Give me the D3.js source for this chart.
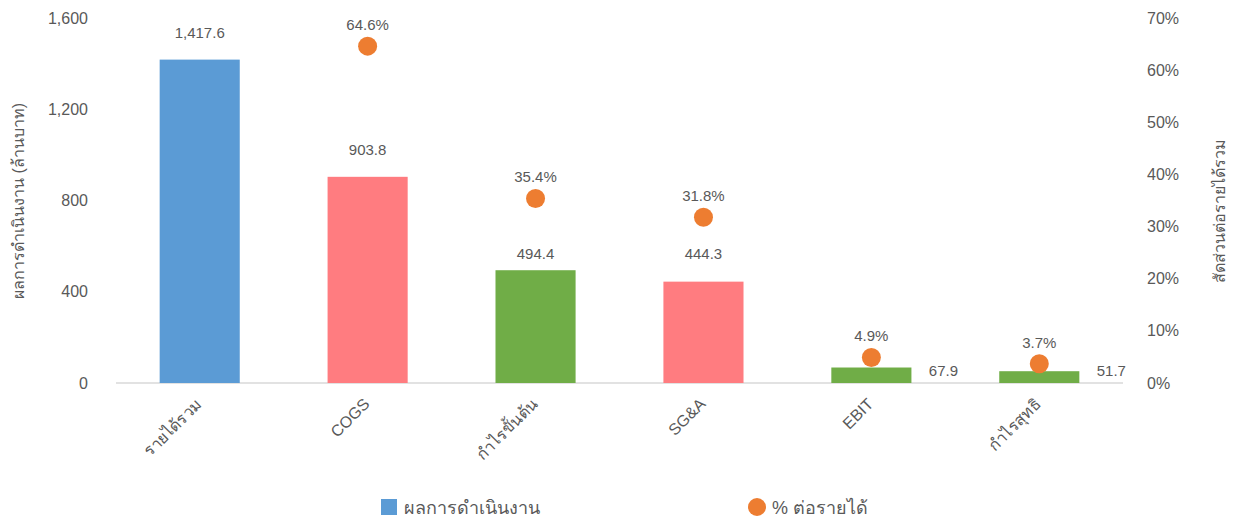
<!DOCTYPE html>
<html>
<head>
<meta charset="utf-8">
<script src="https://cdn.jsdelivr.net/npm/d3@7"></script>
<style>
  body { margin: 0; background: #fff; }
  svg text { font-family: 'Liberation Sans', Arial, sans-serif; fill: #595959; }
</style>
</head>
<body>
<div id="chart"></div>
<script>
// Data
var categories = ['รายได้รวม', 'COGS', 'กำไรขั้นต้น', 'SG&A', 'EBIT', 'กำไรสุทธิ']
var values = [1417.6, 903.8, 494.4, 444.3, 67.9, 51.7]
var percents = [null, 64.6, 35.4, 31.8, 4.9, 3.7]
var barKinds = ['revenue', 'cost', 'profit', 'cost', 'profit', 'profit']
var leftTicks = [0, 400, 800, 1200, 1600]
var rightTicks = [0, 10, 20, 30, 40, 50, 60, 70]

var colors = { revenue: '#5B9BD5', cost: '#FF7C80', profit: '#70AD47' }

var svgWidth = 1236, svgHeight = 521
var margin = { top: 18, right: 113, bottom: 138, left: 116 }
var width = svgWidth - margin.left - margin.right
var height = svgHeight - margin.top - margin.bottom

var svg = d3.select('#chart').append('svg')
  .attr('width', svgWidth)
  .attr('height', svgHeight)

var g = svg.append('g').attr('transform', `translate(${margin.left}, ${margin.top})`)

var x = d3.scaleBand().domain(categories).range([0, width]).paddingInner(0.523).paddingOuter(0.26)
var y = d3.scaleLinear().domain([0, 1600]).range([height, 0])
var y2 = d3.scaleLinear().domain([0, 70]).range([height, 0])

// left axis
g.append('g')
  .call(d3.axisLeft(y).tickValues(leftTicks).tickSize(0).tickPadding(28).tickFormat(d3.format(',')))
  .call(a => a.select('.domain').remove())
  .call(a => a.selectAll('text').style('font-size', '16px').attr('fill', '#595959'))

// right axis
g.append('g')
  .attr('transform', `translate(${width}, 0)`)
  .call(d3.axisRight(y2).tickValues(rightTicks).tickSize(0).tickPadding(24).tickFormat(d => d + '%'))
  .call(a => a.select('.domain').remove())
  .call(a => a.selectAll('text').style('font-size', '16px').attr('fill', '#595959'))

// baseline
g.append('line')
  .attr('x1', 0).attr('x2', width)
  .attr('y1', height).attr('y2', height)
  .attr('stroke', '#d9d9d9').attr('stroke-width', 1.5)

// bars
g.selectAll('rect.bar')
  .data(values)
  .enter()
  .append('rect')
  .attr('class', 'bar')
  .attr('x', (d, i) => x(categories[i]))
  .attr('y', d => y(d))
  .attr('width', x.bandwidth())
  .attr('height', d => height - y(d))
  .attr('fill', (d, i) => colors[barKinds[i]])

// bar labels
g.selectAll('text.vlabel')
  .data(values)
  .enter()
  .append('text')
  .attr('class', 'vlabel')
  .attr('text-anchor', 'middle')
  .style('font-size', '15px')
  .attr('x', (d, i) => {
    var cx = x(categories[i]) + x.bandwidth() / 2
    return d < 200 ? cx + x.bandwidth() / 2 + 32 : cx
  })
  .attr('y', (d, i) => {
    if (d < 200) return height - 7
    if (i === 2 || i === 3) return y(values[3]) - 23
    return y(d) - 22
  })
  .text(d => d3.format(',.1f')(d))

// percent dots
var pts = percents.map((p, i) => ({ p: p, c: categories[i] })).filter(d => d.p !== null)

g.selectAll('circle.pct')
  .data(pts)
  .enter()
  .append('circle')
  .attr('class', 'pct')
  .attr('cx', d => x(d.c) + x.bandwidth() / 2)
  .attr('cy', d => y2(d.p))
  .attr('r', 9.5)
  .attr('fill', '#ED7D31')

g.selectAll('text.plabel')
  .data(pts)
  .enter()
  .append('text')
  .attr('class', 'plabel')
  .attr('text-anchor', 'middle')
  .style('font-size', '15px')
  .attr('x', d => x(d.c) + x.bandwidth() / 2)
  .attr('y', d => y2(d.p) - 16)
  .text(d => d.p.toFixed(1) + '%')

// category labels
g.selectAll('text.cat')
  .data(categories)
  .enter()
  .append('text')
  .attr('class', 'cat')
  .attr('text-anchor', 'end')
  .style('font-size', '16px')
  .attr('transform', d => `translate(${x(d) + x.bandwidth() / 2 + 3}, ${height + 22}) rotate(-45)`)
  .text(d => d)

// axis titles
svg.append('text')
  .attr('text-anchor', 'middle')
  .style('font-size', '16px')
  .attr('transform', `translate(24, ${margin.top + 183}) rotate(-90)`)
  .text('ผลการดำเนินงาน (ล้านบาท)')

svg.append('text')
  .attr('text-anchor', 'middle')
  .style('font-size', '16px')
  .attr('transform', `translate(1225, ${margin.top + 193}) rotate(-90)`)
  .text('สัดส่วนต่อรายได้รวม')

// legend
var legend = svg.append('g').attr('transform', 'translate(381, 499)')
legend.append('rect').attr('width', 16).attr('height', 16).attr('fill', colors.revenue)
legend.append('text').attr('x', 23).attr('y', 15).style('font-size', '18px').text('ผลการดำเนินงาน')
legend.append('circle').attr('cx', 376).attr('cy', 8).attr('r', 9).attr('fill', '#ED7D31')
legend.append('text').attr('x', 391).attr('y', 15).style('font-size', '18px').text('% ต่อรายได้')
</script>
</body>
</html>
